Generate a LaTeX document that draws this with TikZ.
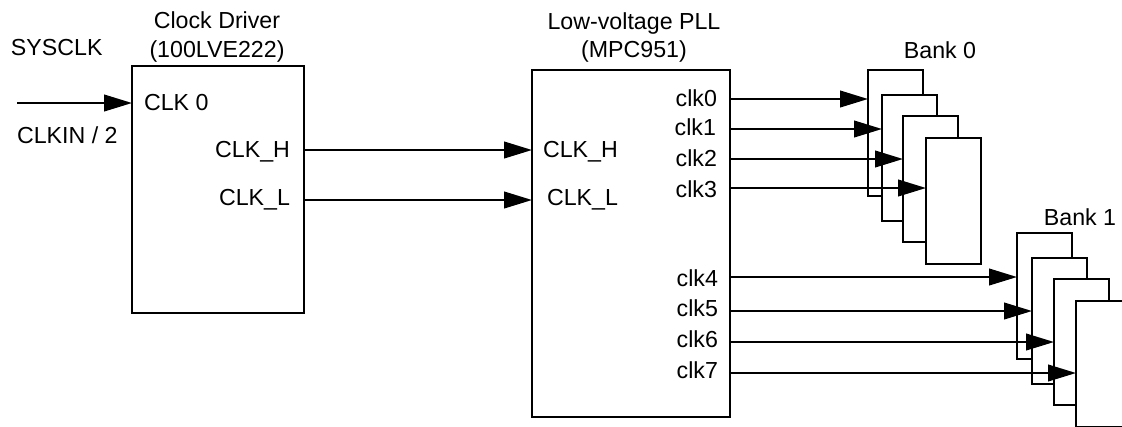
\documentclass[tikz,border=0pt]{standalone}
\usepackage{fontspec}
\setmainfont{Liberation Sans}
\usetikzlibrary{arrows.meta}
\begin{document}
\begin{tikzpicture}[x=0.75pt,y=-0.75pt,
  lw/.style={line width=1.5pt},
  box/.style={draw,lw,fill=white,anchor=north west,inner sep=0pt,outer sep=0pt},
  bankbox/.style={box,minimum width=41.25pt,minimum height=94.5pt},
  lbl/.style={inner sep=0pt,outer sep=0pt,font=\fontsize{17.4}{20}\selectfont},
  sig/.style={lw,-{Triangle[length=21pt,width=12.5pt]}}]
\useasboundingbox (0,0) rectangle (1122,426);
\clip (0,0) rectangle (1122,426);

% main blocks
\node[box,minimum width=129pt,minimum height=185.25pt] (drv) at (132,66) {};
\node[box,minimum width=148.5pt,minimum height=260.25pt] (pll) at (532,70) {};

% bank 0
\node[bankbox] (b00) at (868,70) {};
\node[bankbox] (b01) at (882,95) {};
\node[bankbox] (b02) at (903,116) {};
\node[bankbox] (b03) at (926,138) {};
% bank 1
\node[bankbox] (b10) at (1017,233) {};
\node[bankbox] (b11) at (1032,258) {};
\node[bankbox] (b12) at (1054,279) {};
\node[bankbox] (b13) at (1076,301) {};

% labels
\node[lbl,anchor=base west] (sysclk) at (11,55) {SYSCLK};
\node[lbl,anchor=base west] (clkin) at (17,143) {CLKIN / 2};
\node[lbl,anchor=base] (drvt1) at (217,28) {Clock Driver};
\node[lbl,anchor=base] (drvt2) at (217,57) {(100LVE222)};
\node[lbl,anchor=base west] (clk0in) at (144,110) {CLK 0};
\node[lbl,anchor=base east] (dh) at (290,157) {CLK\_H};
\node[lbl,anchor=base east] (dl) at (290,205) {CLK\_L};
\node[lbl,anchor=base] (pllt1) at (634,29) {Low-voltage PLL};
\node[lbl,anchor=base] (pllt2) at (634,57) {(MPC951)};
\node[lbl,anchor=base west] (ph) at (543,157) {CLK\_H};
\node[lbl,anchor=base west] (pl) at (547,205) {CLK\_L};
\node[lbl,anchor=base east] (l0) at (717,106) {clk0};
\node[lbl,anchor=base east] (l1) at (716,135) {clk1};
\node[lbl,anchor=base east] (l2) at (717,166) {clk2};
\node[lbl,anchor=base east] (l3) at (717,197) {clk3};
\node[lbl,anchor=base east] (l4) at (718,286) {clk4};
\node[lbl,anchor=base east] (l5) at (718,316) {clk5};
\node[lbl,anchor=base east] (l6) at (718,347) {clk6};
\node[lbl,anchor=base east] (l7) at (718,378) {clk7};
\node[lbl,anchor=base] (bank0) at (940,58) {Bank 0};
\node[lbl,anchor=base] (bank1) at (1080,225) {Bank 1};

% connectors
\coordinate (in) at (17,103);
\draw[sig] (in) -- (in -| drv.west);
\draw[sig] (drv.east |- 0,150) -- (pll.west |- 0,150);
\draw[sig] (drv.east |- 0,200) -- (pll.west |- 0,200);

\draw[sig] (pll.east |- 0,99)  -- (b00.west |- 0,99);
\draw[sig] (pll.east |- 0,129) -- (b01.west |- 0,129);
\draw[sig] (pll.east |- 0,159) -- (b02.west |- 0,159);
\draw[sig] (pll.east |- 0,188) -- (b03.west |- 0,188);
\draw[sig] (pll.east |- 0,277) -- (b10.west |- 0,277);
\draw[sig] (pll.east |- 0,311) -- (b11.west |- 0,311);
\draw[sig] (pll.east |- 0,342) -- (b12.west |- 0,342);
\draw[sig] (pll.east |- 0,373) -- (b13.west |- 0,373);
\end{tikzpicture}
\end{document}
